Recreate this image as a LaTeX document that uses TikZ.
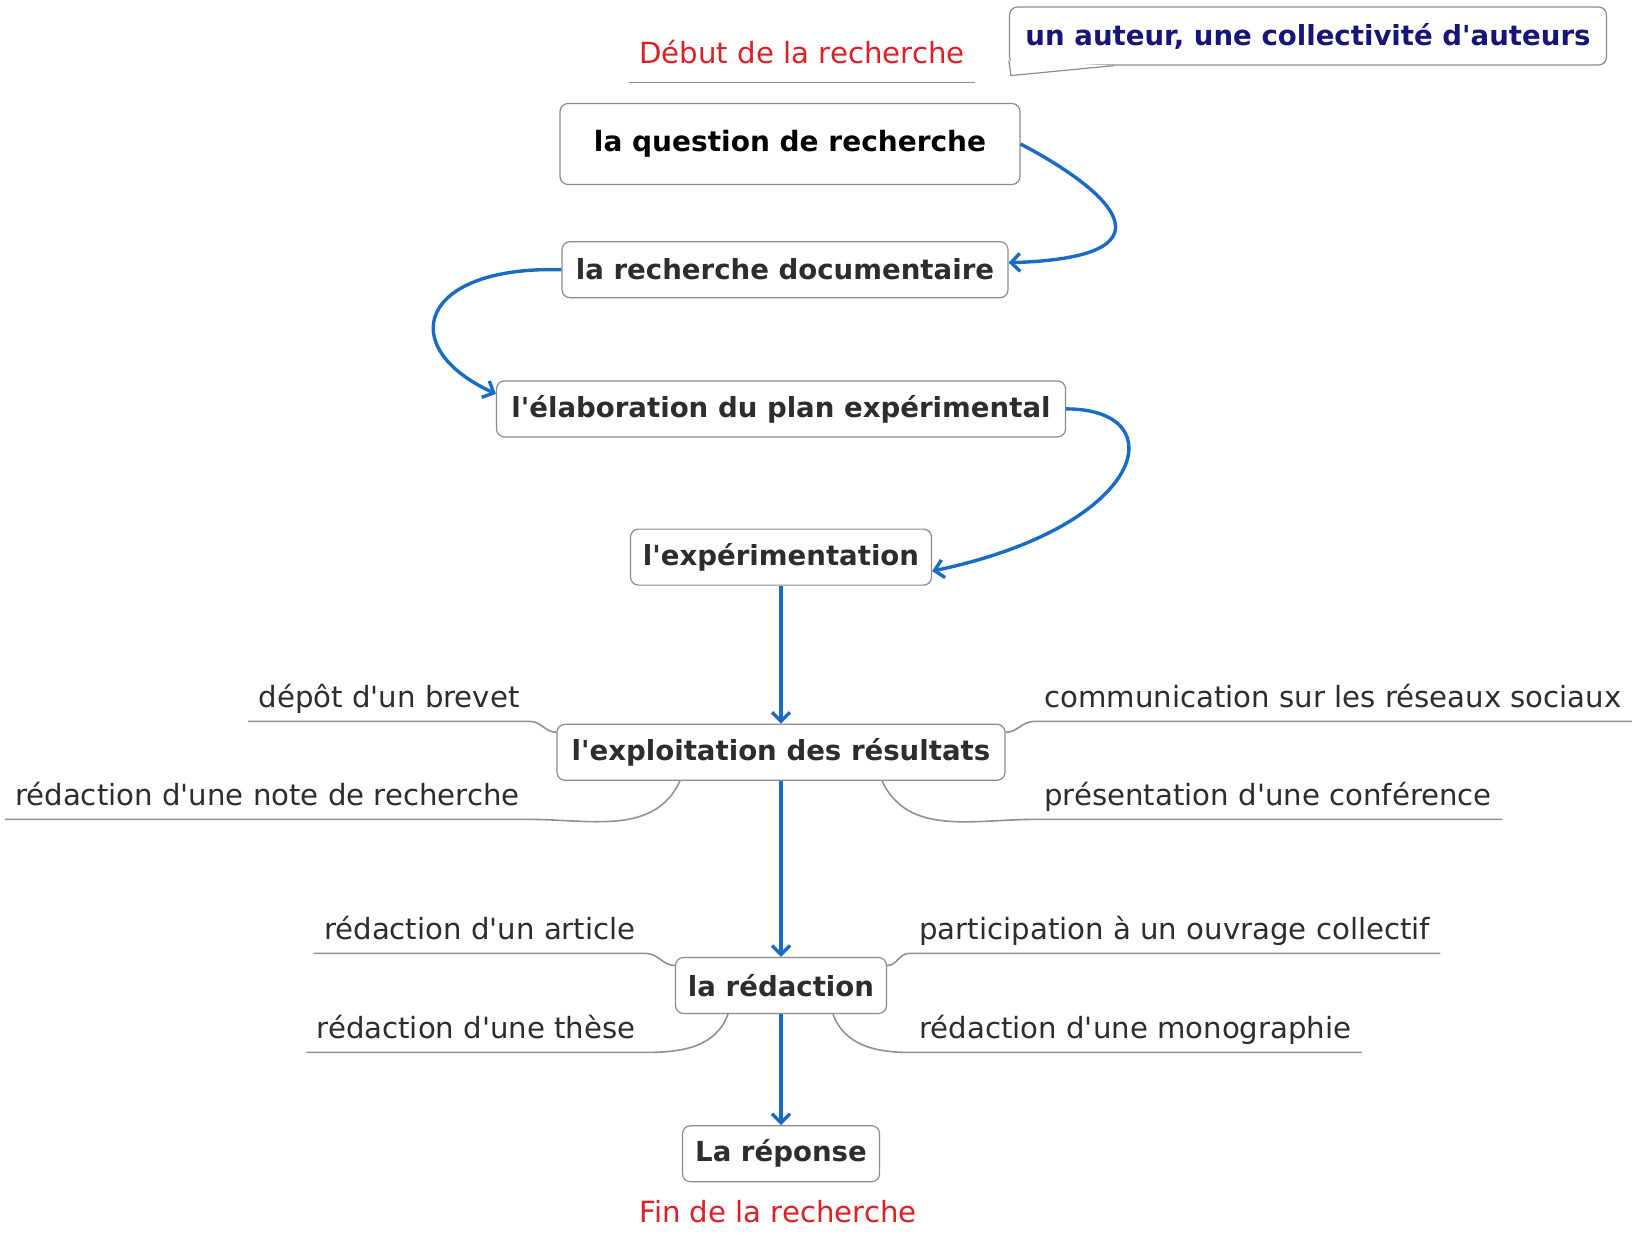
\documentclass[tikz,border=0pt]{standalone}
\usepackage{fontspec}
\setmainfont{DejaVu Sans}[Ligatures=TeXOff]
\usepackage{xcolor}
\usepackage{tikz}
\usetikzlibrary{arrows.meta, positioning, calc}
\definecolor{flowBlue}{RGB}{24,108,198}
\definecolor{boxLine}{RGB}{140,140,140}
\definecolor{twigLine}{RGB}{145,145,145}
\definecolor{ink}{RGB}{45,45,45}
\definecolor{startRed}{RGB}{222,32,38}
\definecolor{noteNavy}{RGB}{22,22,120}
\tikzset{
  topic/.style={
    draw=boxLine,
    line width=0.6pt,
    rounded corners=4pt,
    fill=white,
    align=center,
    minimum height=28pt,
    inner xsep=6pt,
    text=ink,
    font=\bfseries\fontsize{13.8}{16}\selectfont
  },
  leaf/.style={
    inner xsep=5pt,
    inner ysep=7pt,
    text height=11pt,
    text depth=0pt,
    text=ink,
    font=\fontsize{14.6}{17}\selectfont
  },
  milestone/.style={leaf, inner ysep=9pt, text=startRed},
  noteBox/.style={
    draw=boxLine,
    line width=0.6pt,
    rounded corners=4pt,
    fill=white,
    text=noteNavy,
    font=\bfseries\fontsize{13.8}{16}\selectfont
  },
  noteLine/.style={draw=boxLine, line width=0.6pt, line join=round},
  flow/.style={-{Straight Barb[length=4.5pt,width=9pt]}, line width=1.7pt, draw=flowBlue},
  twig/.style={draw=twigLine, line width=0.8pt}
}

\begin{document}
\begin{tikzpicture}[x=0.5pt, y=-0.5pt, node distance=28pt]
  \path[use as bounding box, fill=white] (0,0) rectangle (1637,1236);

  % main chain
  \node[topic, minimum width=230pt, minimum height=40.5pt, text=black, font=\bfseries\fontsize{14}{16}\selectfont] (question) at (790,144) {la question de recherche};
  \node[topic, below=28pt of question, xshift=-2.5pt, minimum width=223pt] (documentation) {la recherche documentaire};
  \node[topic, below=41pt of documentation, xshift=-2pt, minimum width=284.5pt] (plan) {l'élaboration du plan expérimental};
  \node[topic, below=45.5pt of plan, minimum width=150.5pt] (experience) {l'expérimentation};
  \node[topic, below=69pt of experience, minimum width=224pt] (exploitation) {l'exploitation des résultats};
  \node[topic, below=88pt of exploitation, minimum width=105.5pt] (redaction) {la rédaction};
  \node[topic, below=55.5pt of redaction, minimum width=98.5pt] (reponse) {La réponse};

  % start / end
  \node[milestone, anchor=base] (debut) at (802,64) {Début de la recherche};
  \node[milestone, anchor=base] (fin) at (778,1222) {Fin de la recherche};
  \draw[twig] (debut.south west) -- (debut.south east);

  % callout
  \node[noteBox, minimum width=298.5pt, minimum height=29pt] (auteur) at (1308,36) {un auteur, une collectivité d'auteurs};
  \filldraw[noteLine, fill=white] ($(auteur.south west)+(0,-5)$) -- ($(auteur.south west)+(2,10)$) -- ($(auteur.south west)+(105,0)$);

  % outputs
  \node[leaf, anchor=base east] (brevet) at (530,707) {dépôt d'un brevet};
  \node[leaf, anchor=base east] (note) at (530,805) {rédaction d'une note de recherche};
  \node[leaf, anchor=base west] (reseaux) at (1034,707) {communication sur les réseaux sociaux};
  \node[leaf, anchor=base west] (conference) at (1034,805) {présentation d'une conférence};
  \node[leaf, anchor=base east] (article) at (646,939) {rédaction d'un article};
  \node[leaf, anchor=base east] (these) at (646,1038) {rédaction d'une thèse};
  \node[leaf, anchor=base west] (ouvrage) at (909,939) {participation à un ouvrage collectif};
  \node[leaf, anchor=base west] (monographie) at (909,1038) {rédaction d'une monographie};

  \draw[twig] (brevet.south west) -- (brevet.south east) to[out=0, in=180] ([yshift=10pt]exploitation.west);
  \draw[twig] (note.south west) -- (note.south east) to[out=0, in=-115] ([xshift=-50.5pt]exploitation.south);
  \draw[twig] ([yshift=10pt]exploitation.east) to[out=0, in=180] (reseaux.south west) -- (reseaux.south east);
  \draw[twig] ([xshift=50.5pt]exploitation.south) to[out=-65, in=180] (conference.south west) -- (conference.south east);
  \draw[twig] (article.south west) -- (article.south east) to[out=0, in=180] ([yshift=10pt]redaction.west);
  \draw[twig] (these.south west) -- (these.south east) to[out=0, in=-110] ([xshift=-26.5pt]redaction.south);
  \draw[twig] ([yshift=10pt]redaction.east) to[out=0, in=180] (ouvrage.south west) -- (ouvrage.south east);
  \draw[twig] ([xshift=26pt]redaction.south) to[out=-70, in=180] (monographie.south west) -- (monographie.south east);

  % flow
  \draw[flow] (question.east) .. controls +(95,50) and +(170,-5) .. ([yshift=3.5pt]documentation.east);
  \draw[flow] (documentation.west) .. controls +(-142,-4) and +(-102,-47) .. ([yshift=7.5pt]plan.west);
  \draw[flow] (plan.east) .. controls +(110,0) and +(215,-45) .. ([yshift=-7pt]experience.east);
  \draw[flow] (experience.south) -- (exploitation.north);
  \draw[flow] (exploitation.south) -- (redaction.north);
  \draw[flow] (redaction.south) -- (reponse.north);
\end{tikzpicture}
\end{document}
